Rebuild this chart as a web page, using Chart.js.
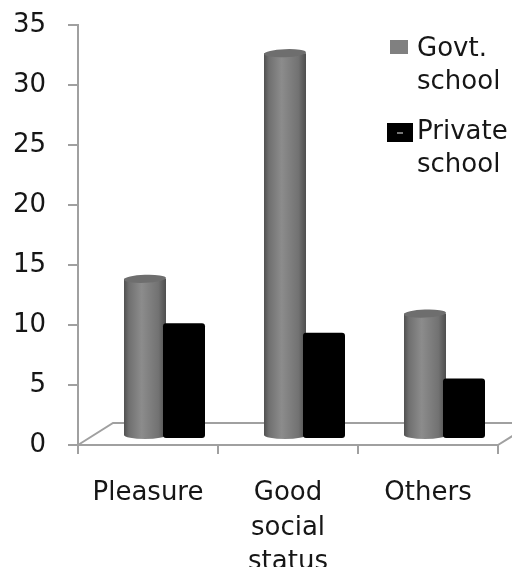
<!DOCTYPE html>
<html>
<head>
<meta charset="utf-8">
<script src="https://cdn.jsdelivr.net/npm/chart.js@4/dist/chart.umd.min.js"></script>
<style>
  html, body { margin: 0; padding: 0; background: #fff; }
  #wrap { width: 512px; height: 567px; }
</style>
</head>
<body>
<div id="wrap"><canvas id="c" width="512" height="567"></canvas></div>
<script>
// Reasons for choosing the school, by school type
const categories = ['Pleasure', ['Good', 'social', 'status'], 'Others'];
const seriesNames = ['Govt. school', 'Private school'];
const legendLines = [['Govt.', 'school'], ['Private', 'school']];
const govtSchool = [13.1, 31.9, 10.2];
const privateSchool = [9.4, 8.6, 4.8];
const yTicks = [0, 5, 10, 15, 20, 25, 30, 35];

const FONT = 'DejaVu Sans';
const TEXT = '#161616';
const AXIS = '#a0a0a0';
const DEPTH_X = 35, DEPTH_Y = 22;   // floor depth
const BAR_DX = 18, BAR_DY = 9;      // bars sit mid-way into the floor

// Floor parallelogram and 3D-style bars (cylinders + boxes)
const depthPlugin = {
  id: 'depth',
  beforeDatasetsDraw(chart) {
    const ctx = chart.ctx;
    const area = chart.chartArea;
    const y0 = chart.scales.y.getPixelForValue(0);
    ctx.save();
    ctx.strokeStyle = AXIS;
    ctx.lineWidth = 2;
    ctx.beginPath();
    ctx.moveTo(area.left, y0);
    ctx.lineTo(area.left + DEPTH_X, y0 - DEPTH_Y);
    ctx.lineTo(area.right + DEPTH_X, y0 - DEPTH_Y);
    ctx.moveTo(area.right, y0);
    ctx.lineTo(area.right + DEPTH_X, y0 - DEPTH_Y);
    ctx.stroke();

    const govt = chart.getDatasetMeta(0).data;
    const priv = chart.getDatasetMeta(1).data;
    for (let i = 0; i < govt.length; i++) {
      // cylinder
      const g = govt[i];
      const gx = g.x + BAR_DX, gw = g.width;
      const gl = gx - gw / 2, gr = gx + gw / 2;
      const gTop = g.y - BAR_DY, gBase = g.base - BAR_DY;
      const ry = 4;
      const grad = ctx.createLinearGradient(gl, 0, gr, 0);
      grad.addColorStop(0, '#505050');
      grad.addColorStop(0.12, '#707070');
      grad.addColorStop(0.42, '#8c8c8c');
      grad.addColorStop(0.82, '#727272');
      grad.addColorStop(1, '#4e4e4e');
      ctx.fillStyle = grad;
      ctx.beginPath();
      ctx.moveTo(gl, gTop);
      ctx.lineTo(gl, gBase);
      ctx.ellipse(gx, gBase, gw / 2, ry, 0, Math.PI, 0, true);
      ctx.lineTo(gr, gTop);
      ctx.closePath();
      ctx.fill();
      ctx.fillStyle = '#6e6e6e';
      ctx.beginPath();
      ctx.ellipse(gx, gTop, gw / 2, ry, -0.04, 0, Math.PI * 2);
      ctx.fill();

      // box
      const p = priv[i];
      const px = p.x + BAR_DX - 3, pw = p.width;
      const pTop = p.y - BAR_DY, pBase = p.base - BAR_DY + 3;
      ctx.fillStyle = '#000';
      ctx.beginPath();
      ctx.roundRect(px - pw / 2, pTop, pw, pBase - pTop, 3);
      ctx.fill();
    }
    ctx.restore();
    return false;
  },
  afterDraw(chart) {
    const ctx = chart.ctx;
    ctx.save();
    ctx.font = '26px "' + FONT + '"';
    ctx.textBaseline = 'alphabetic';
    // Govt. school entry
    ctx.fillStyle = '#808080';
    ctx.fillRect(390, 40, 18, 14);
    ctx.fillStyle = TEXT;
    ctx.fillText(legendLines[0][0], 417, 56);
    ctx.fillText(legendLines[0][1], 417, 89);
    // Private school entry
    ctx.fillStyle = '#000';
    ctx.fillRect(387, 123, 26, 19);
    ctx.fillStyle = '#777';
    ctx.fillRect(397, 132, 6, 2);
    ctx.fillStyle = TEXT;
    ctx.fillText(legendLines[1][0], 417, 139);
    ctx.fillText(legendLines[1][1], 417, 172);
    ctx.restore();
  }
};

new Chart(document.getElementById('c'), {
  type: 'bar',
  data: {
    labels: categories,
    datasets: [
      { label: seriesNames[0], data: govtSchool, backgroundColor: '#7a7a7a' },
      { label: seriesNames[1], data: privateSchool, backgroundColor: '#000' }
    ]
  },
  options: {
    responsive: false,
    animation: false,
    events: [],
    layout: { padding: { top: 25, right: 14, left: 0, bottom: 0 } },
    datasets: { bar: { categoryPercentage: 0.6, barPercentage: 1.0 } },
    plugins: { legend: { display: false }, tooltip: { enabled: false } },
    scales: {
      x: {
        afterFit(s) { s.height = 122; s.paddingLeft = 0; s.paddingRight = 0; },
        grid: { offset: true, drawOnChartArea: false, tickLength: 9, color: AXIS, lineWidth: 2 },
        border: { color: AXIS, width: 2 },
        ticks: {
          font: { family: FONT, size: 26, lineHeight: 1.33 },
          color: TEXT, padding: 22, maxRotation: 0, autoSkip: false
        }
      },
      y: {
        min: 0, max: 35,
        afterFit(s) { s.width = 78; s.paddingTop = 0; s.paddingBottom = 0; },
        afterBuildTicks(s) { s.ticks = yTicks.map(v => ({ value: v })); },
        grid: { drawOnChartArea: false, tickLength: 10, color: AXIS, lineWidth: 2 },
        border: { color: AXIS, width: 2 },
        ticks: { font: { family: FONT, size: 26 }, color: TEXT, padding: 22 }
      }
    }
  },
  plugins: [depthPlugin]
});
</script>
</body>
</html>
